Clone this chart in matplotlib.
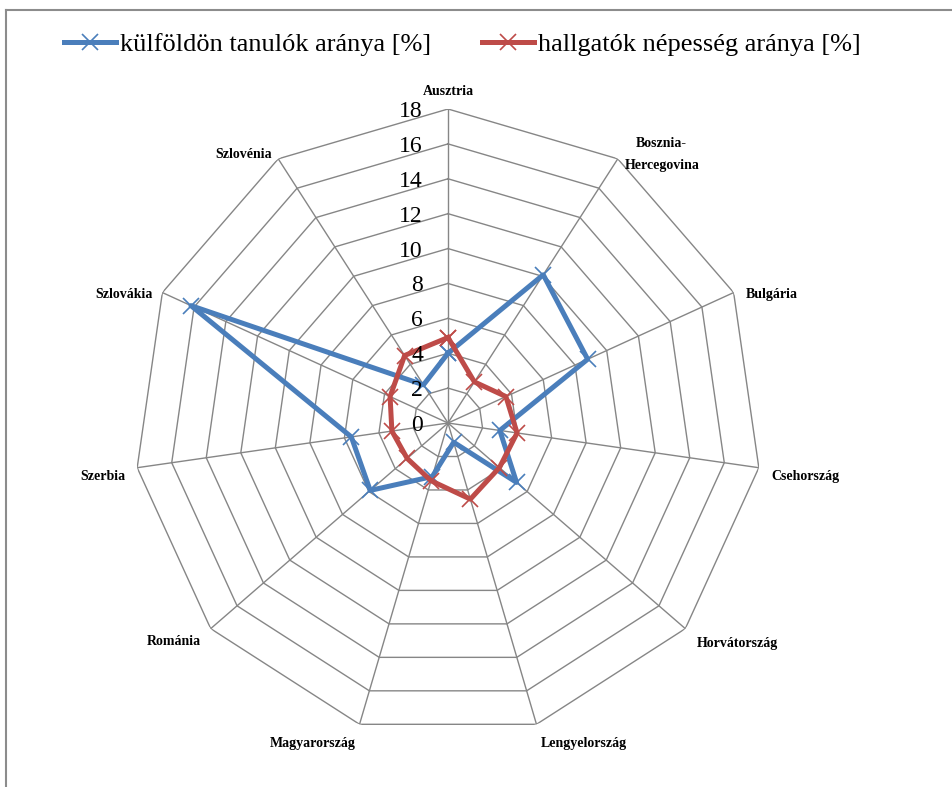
import matplotlib
matplotlib.use("Agg")
import matplotlib.pyplot as plt
from matplotlib.lines import Line2D
import numpy as np

plt.rcParams['font.family'] = ['Liberation Serif', 'DejaVu Serif']

categories = ['Ausztria', 'Bosznia-\nHercegovina', 'Bulgária', 'Csehország',
              'Horvátország', 'Lengyelország', 'Magyarország', 'Románia',
              'Szerbia', 'Szlovákia', 'Szlovénia']
kulfoldon = [4.0, 10.1, 8.8, 3.0, 5.2, 1.15, 3.2, 5.9, 5.6, 16.2, 2.6]
hallgatok = [4.9, 2.8, 3.65, 4.0, 3.9, 4.55, 3.45, 3.1, 3.25, 3.65, 4.6]
ticks = list(range(0, 19, 2))
series_names = ['külföldön tanulók aránya [%]', 'hallgatók népesség aránya [%]']

BLUE = '#4A7EBB'
RED = '#BE4B48'
GRID = '#868686'

n = len(categories)
theta = np.arange(n) * 2 * np.pi / n
theta_c = np.append(theta, theta[0])

fig = plt.figure(figsize=(9.53, 7.87), dpi=100)
ax = fig.add_axes([0.1406, 0.0635, 0.659, 0.798], projection='polar')
ax.set_theta_zero_location('N')
ax.set_theta_direction(-1)
ax.set_ylim(0, ticks[-1])
ax.grid(False)
ax.set_xticks([])
ax.set_yticks([])
ax.spines['polar'].set_visible(False)
ax.patch.set_alpha(0)

# polygon grid
for t in ticks[1:]:
    ax.plot(theta_c, [t] * (n + 1), color=GRID, lw=1.0, zorder=1)
for th in theta:
    ax.plot([th, th], [0, ticks[-1]], color=GRID, lw=1.0, zorder=1)

for vals, col in [(kulfoldon, BLUE), (hallgatok, RED)]:
    ax.plot(theta_c, vals + vals[:1], color=col, lw=3.6, marker='x',
            markersize=12, markeredgewidth=1.2, zorder=3)

# radial tick labels
for t in ticks:
    ax.annotate(str(t), xy=(0, t), xytext=(-25, 0), textcoords='offset pixels',
                ha='right', va='center_baseline', fontsize=17, zorder=5,
                annotation_clip=False)

# category labels (offset in pixels from outer vertex)
label_offsets = [(0, 17, 'center'), (44, 4, 'center'), (12, -2, 'left'),
                 (13, -9, 'left'), (11, -15, 'left'), (47, -19, 'center'),
                 (-47, -19, 'center'), (-10, -13, 'right'), (-12, -9, 'right'),
                 (-10, -2, 'right'), (-6, 4, 'right')]
for th, lab, (dx, dy, ha) in zip(theta, categories, label_offsets):
    ax.annotate(lab, xy=(th, ticks[-1]), xytext=(dx, dy), textcoords='offset pixels',
                ha=ha, va='center', fontsize=10, fontweight='bold',
                linespacing=1.9, multialignment='center', annotation_clip=False)

handles = [Line2D([], [], color=BLUE, lw=3.6, marker='x', markersize=12, markeredgewidth=1.2),
           Line2D([], [], color=RED, lw=3.6, marker='x', markersize=12, markeredgewidth=1.2)]
fig.legend(handles, series_names, loc='center left', bbox_to_anchor=(0.053, 0.944),
           ncol=2, frameon=False, fontsize=19, borderpad=0, handlelength=2.0,
           handletextpad=0.15, columnspacing=1.9)

# chart frame
fig.add_artist(Line2D([6 / 953, 1], [1 - 10 / 787] * 2, color='#8c8c8c', lw=1.5))
fig.add_artist(Line2D([6 / 953] * 2, [0, 1 - 10 / 787], color='#8c8c8c', lw=1.5))

fig.savefig('out.png', dpi=100)
